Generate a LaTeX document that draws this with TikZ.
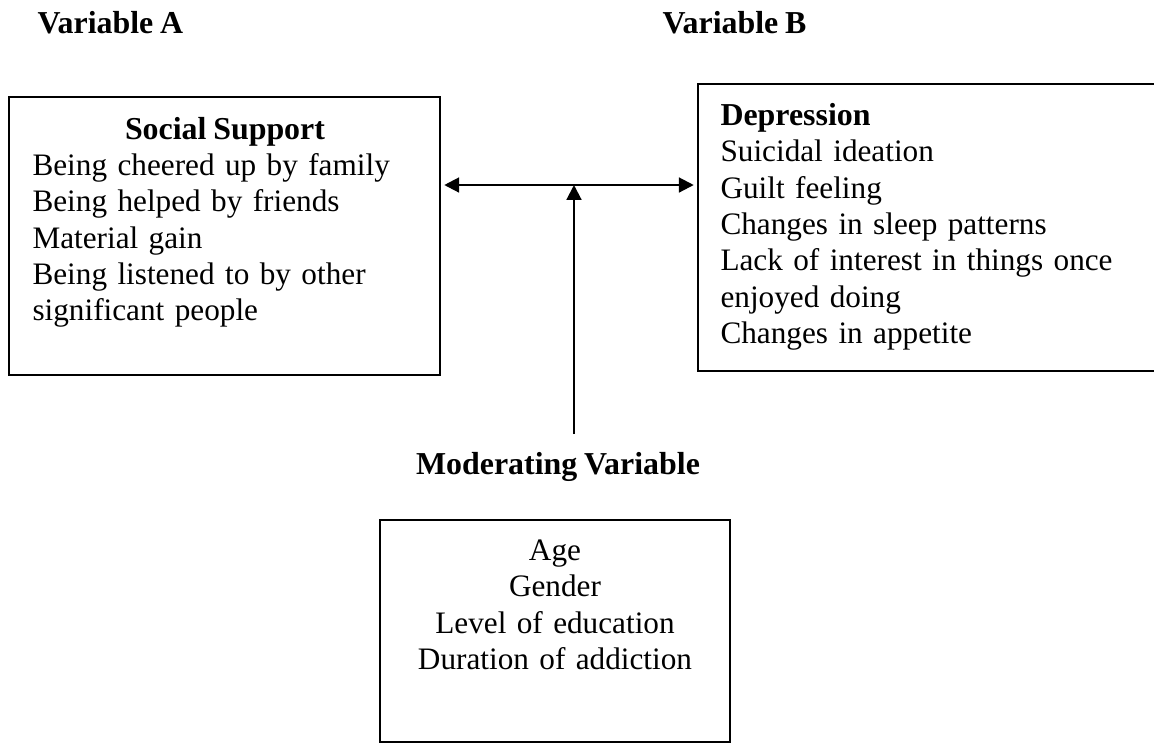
\documentclass[tikz,border=0pt]{standalone}
\usepackage{fontspec}
\setmainfont[WordSpace=0.85]{Liberation Serif}
\usetikzlibrary{arrows.meta,fit}
\tikzset{
	varbox/.style={draw,line width=1pt,inner sep=0pt},
	txt/.style={inner sep=0pt,font=\fontsize{11.75pt}{13.73pt}\selectfont},
	head/.style={inner sep=0pt,font=\fontsize{12pt}{13.73pt}\selectfont\bfseries},
	link/.style={line width=0.8pt,-{Triangle[length=5.6pt,width=5.6pt]}},
	twolink/.style={line width=0.8pt,{Triangle[length=5.6pt,width=5.6pt]}-{Triangle[length=5.6pt,width=5.6pt]}},
}
\begin{document}
\begin{tikzpicture}[x=0.3762pt,y=-0.3762pt]
	\useasboundingbox (0,0) rectangle (1154,745);
	\node[head,anchor=base west] (vara) at (37,33) {Variable A};
	\node[head,anchor=base west] (varb) at (662,33) {Variable B};
	\node[varbox,fit={(9,97) (440,375)}] (socbox) {};
	\node[varbox,fit={(698,84) (1175,371)}] (depbox) {};
	\node[varbox,fit={(380,520) (730,742)}] (modbox) {};
	\node[head,anchor=base] (soctitle) at (225,139) {Social Support};
	\node[txt,anchor=base west,text width=144.8pt,align=left] (soctext) at (32,175)
		{Being cheered up by family\\Being helped by friends\\Material gain\\Being listened to by other\\significant people};
	\node[txt,anchor=base west,text width=161.8pt,align=left] (deptext) at (720,125)
		{\textbf{\fontsize{12pt}{13.73pt}\selectfont Depression}\\Suicidal ideation\\Guilt feeling\\Changes in sleep patterns\\Lack of interest in things once\\enjoyed doing\\Changes in appetite};
	\node[head,anchor=base] (modhead) at (558,474) {Moderating Variable};
	\node[txt,anchor=base,text width=124pt,align=center] (modtext) at (555,560)
		{Age\\Gender\\Level of education\\Duration of addiction};
	\coordinate (meet) at (574,185);
	\coordinate (modtail) at (574,434);
	\draw[twolink,shorten <=1.1pt,shorten >=1.1pt] (socbox.east |- meet) -- (depbox.west |- meet);
	\draw[link] (modtail) -- (meet);
\end{tikzpicture}
\end{document}
